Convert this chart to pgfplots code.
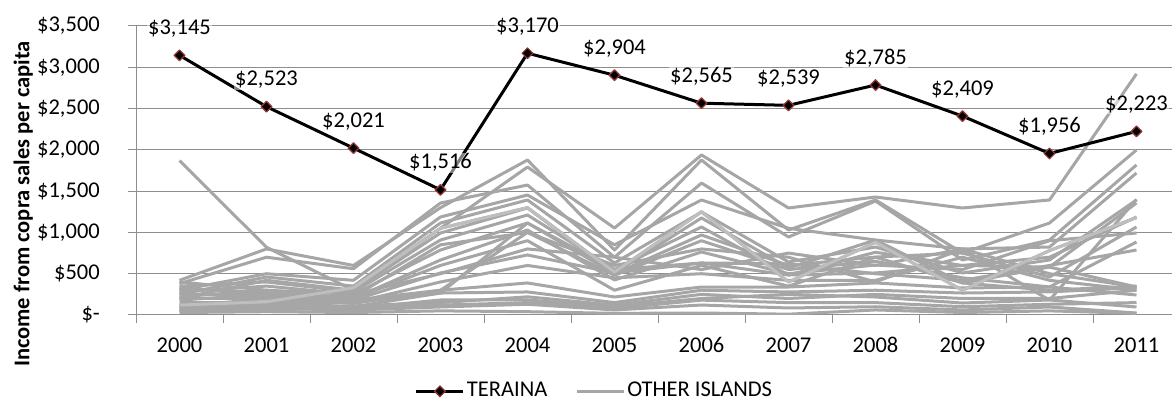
\documentclass[border=0pt]{standalone}
\usepackage{pgfplots}
\usepackage{pgfplotstable}
\pgfplotsset{compat=1.18}
\usepackage{fontspec}
\setmainfont{Carlito}

\definecolor{gridgray}{HTML}{8E8E8E}
\definecolor{isle}{HTML}{A6A6A6}
\definecolor{islelight}{HTML}{BEBEBE}
\definecolor{mk}{HTML}{953735}

% Teraina: income from copra sales per capita
\pgfplotstableread{
i  v
0  3145
1  2523
2  2021
3  1516
4  3170
5  2904
6  2565
7  2539
8  2785
9  2409
10 1956
11 2223
}\teraina

% Other islands, one column per island, one row per year (2000-2011)
\pgfplotstableread{
i  s1   s2   s3   s4   s5   s6   s7   s8   s9   s10  s11  s12  s13  s14  s15  s16  s17  s18  s19  s20  s21  s22  s23  s24
0  1870 420  380  300  250  200  350  120  280  220  180  120  100  320  260  200  150  100  60   30   400  330  80   50
1  820  800  700  500  460  420  400  160  350  300  250  150  200  270  230  200  150  120  80   40   300  250  100  60
2  300  600  560  420  350  300  280  330  250  200  220  150  180  180  150  140  100  80   60   30   250  200  110  90
3  1050 1300 1356 1187 1114 993  908  1050 787  666  850  266  300  509  400  300  266  182  97   50   500  600  150  120
4  1792 1877 1574 1453 1393 1296 1211 1300 1114 1029 1000 1114 1000 727  600  388  279  182  130  40   800  900  220  150
5  1053 787  700  850  630  509  550  520  500  424  480  550  600  509  450  218  150  100  61   20   700  300  120  80
6  1938 1877 1598 1393 1247 1175 1066 1250 969  763  900  630  800  630  500  339  300  200  121  24   550  600  250  180
7  1296 1029 945  1050 642  569  484  400  600  500  550  620  700  484  420  339  279  250  85   10   750  350  200  150
8  1429 1393 1380 908  823  908  760  880  702  605  650  500  400  509  420  388  300  218  100  61   600  700  250  150
9  1296 751  666  800  509  388  600  300  750  550  450  420  800  600  700  327  266  145  61   30   800  388  200  100
10 1393 1114 908  823  666  581  700  780  460  900  340  600  180  580  420  339  280  182  97   50   500  300  200  130
11 2920 1998 1817 1720 1393 1356 1187 1180 1066 993  884  787  1400 339  303  242  330  97   24   20   340  350  300  150
}\others

\begin{document}
\fontsize{22.5}{27}\selectfont
\begin{tikzpicture}
\begin{axis}[
  scale only axis,
  width=1044pt, height=289pt,
  at={(136pt,86pt)}, anchor=south west,
  xmin=-0.5, xmax=11.5, ymin=0, ymax=3500,
  axis x line*=bottom, axis y line*=left,
  axis line style={gridgray, line width=1pt, -},
  tick align=outside,
  xtick={0,...,11},
  xticklabels={2000,2001,2002,2003,2004,2005,2006,2007,2008,2009,2010,2011},
  major x tick style={draw=none},
  minor xtick={-0.5,0.5,...,11.5},
  minor x tick style={gridgray, line width=1pt},
  minor tick length=8pt,
  ytick={0,500,...,3500},
  yticklabels={{\$-\hspace{10pt}},{\$500},{\$1,000},{\$1,500},{\$2,000},{\$2,500},{\$3,000},{\$3,500}},
  major y tick style={gridgray, line width=1pt},
  major tick length=8pt,
  ymajorgrids,
  grid style={gridgray, line width=1pt},
  yticklabel style={anchor=east, inner sep=0pt, xshift=-28pt},
  xticklabel style={anchor=base, inner sep=0pt, yshift=-30pt},
  ylabel={\bfseries Income from copra sales per capita},
  ylabel style={at={(axis description cs:-0.108,0.384)}, anchor=center},
  /pgf/number format/assume math mode=true,
  legend image code/.code={\draw[mark repeat=2, mark phase=2, #1] plot coordinates {(0pt,0pt) (23.5pt,0pt) (47pt,0pt)};},
  legend style={at={(axis description cs:0.4392,-0.264)}, anchor=center,
    draw=none, fill=none, legend columns=2,
    nodes={inner xsep=2pt, inner ysep=0pt},
    /tikz/every even column/.append style={column sep=26pt}},
]
\addlegendimage{black, line width=3pt, mark=square*, mark size=3.8pt,
  mark options={rotate=45, fill=black, draw=mk, line width=1.2pt}}
\addlegendentry{TERAINA}
\addlegendimage{isle, line width=3pt}
\addlegendentry{OTHER ISLANDS}

\pgfplotsinvokeforeach{1,...,24}{
  \addplot[isle, line width=3pt, line join=round, forget plot] table[x=i, y=s#1] {\others};
}
\addplot[islelight, line width=3pt, line join=round, forget plot] table[x=i, y=s8] {\others};

\addplot[black, line width=3pt, line join=round, forget plot,
  mark=square*, mark size=3.8pt,
  mark options={rotate=45, fill=black, draw=mk, line width=1.2pt},
  point meta=explicit,
  nodes near coords={\$\pgfmathprintnumber[fixed, precision=0, 1000 sep={,}]{\pgfplotspointmeta}},
  every node near coord/.append style={anchor=base, yshift=21pt, black,
    fill=white, fill opacity=0.5, text opacity=1, inner sep=1pt},
] table[x=i, y=v, meta=v] {\teraina};
\end{axis}
\pgfresetboundingbox
\path[use as bounding box] (0pt,0pt) rectangle (1172pt,401pt);
\end{tikzpicture}
\end{document}
